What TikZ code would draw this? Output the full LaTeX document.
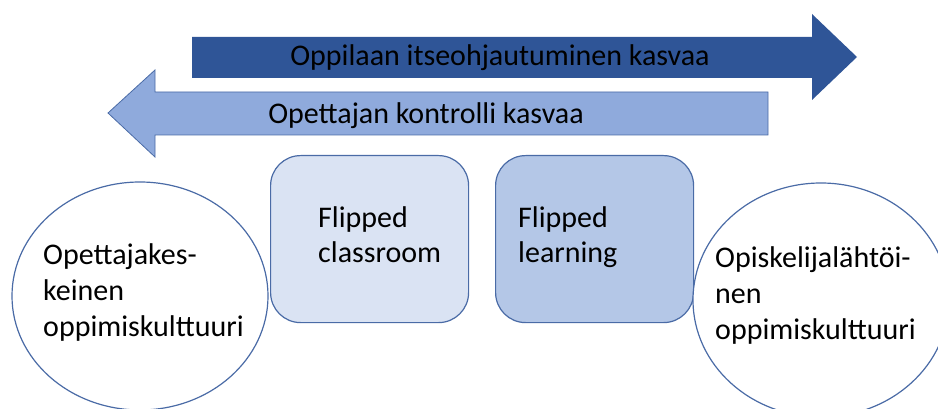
\documentclass[tikz,border=0pt]{standalone}
\usepackage{fontspec}
\setmainfont{Carlito}
\usetikzlibrary{shapes.geometric}
\definecolor{darkarrow}{HTML}{2F5597}
\definecolor{lightarrow}{HTML}{8FAADC}
\definecolor{edge}{HTML}{4A6BA6}
\definecolor{boxa}{HTML}{DAE3F3}
\definecolor{boxb}{HTML}{B4C7E7}
\tikzset{
  arrowtext/.style={font=\fontsize{30}{36}\selectfont, text=black, inner sep=0pt},
  roundbox/.style={draw=edge, line width=1.2pt, rounded corners=30pt, minimum width=198pt, minimum height=167pt, anchor=north west},
  culture/.style={draw=edge, line width=1.2pt, ellipse, fill=white},
  boxlabel/.style={font=\fontsize{30}{35}\selectfont, align=left, anchor=north west, inner sep=0pt, text=black},
  label/.style={font=\fontsize{30}{36}\selectfont, align=left, anchor=north west, inner sep=0pt, text=black},
}
\begin{document}
\begin{tikzpicture}[x=1pt, y=-1pt]
\useasboundingbox (0,0) rectangle (938,409);
\clip (0,0) rectangle (938,409);
% arrow towards the learner-centred end
\fill[darkarrow] (192,37) -- (812,37) -- (812,14) -- (857,57) -- (812,100) -- (812,78) -- (192,78) -- cycle;
\node[arrowtext] (selfdir) at (500,58) {Oppilaan itseohjautuminen kasvaa};
% arrow towards the teacher-centred end
\draw[edge, fill=lightarrow, line width=0.8pt] (768,92) -- (155,92) -- (155,70) -- (108,113) -- (155,157) -- (155,135) -- (768,135) -- cycle;
\node[arrowtext] (control) at (426,116) {Opettajan kontrolli kasvaa};
% the two flipped models
\node[roundbox, fill=boxa] (fc) at (270,155) {};
\node[boxlabel] (fctext) at (318,206) {Flipped\\classroom};
\node[roundbox, fill=boxb] (fl) at (495,155) {};
\node[boxlabel] (fltext) at (518,206) {Flipped\\learning};
% the two learning cultures
\node[culture, minimum width=256pt, minimum height=228pt] (teacher) at (140,296) {};
\node[label] (teachertext) at (43,243) {Opettajakes-\\keinen\\oppimiskulttuuri};
\node[culture, minimum width=256pt, minimum height=234pt] (student) at (821,300) {};
\node[label] (studenttext) at (715,246) {Opiskelijalähtöi-\\nen\\oppimiskulttuuri};
\end{tikzpicture}
\end{document}
